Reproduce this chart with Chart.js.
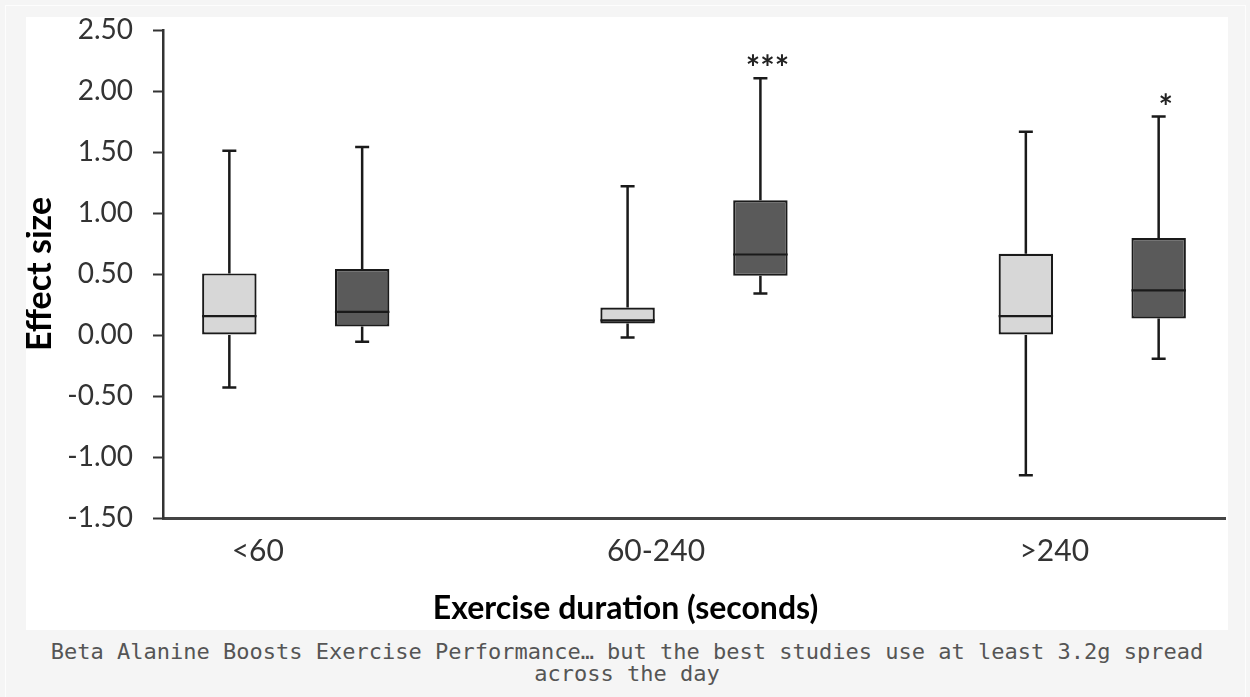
<!DOCTYPE html>
<html><head><meta charset="utf-8">
<script src="https://cdn.jsdelivr.net/npm/chart.js@4.4.1/dist/chart.umd.min.js"></script>
<style>
html,body{margin:0;padding:0;background:#f5f5f5;width:1250px;height:697px;overflow:hidden;}
#frame{position:absolute;left:5px;top:5px;width:1241px;height:700px;border:1px solid #fdfdfd;border-bottom:none;box-sizing:border-box;}
#wrap{position:absolute;left:26px;top:17px;width:1202px;height:613px;background:#fff;}
#cap{position:absolute;left:26px;top:641px;width:1202px;text-align:center;font-family:"DejaVu Sans Mono",monospace;font-size:22px;line-height:22px;color:#555;}
</style></head><body>
<div id="frame"></div>
<div id="wrap"><canvas id="c" width="1202" height="613"></canvas></div>
<div id="cap">Beta Alanine Boosts Exercise Performance… but the best studies use at least 3.2g spread<br>across the day</div>
<script>
// ---- data ----
const categories = ['<60', '60-240', '>240'];
const categoryIndex = [0, 1, 2];
const yMin = -1.5, yMax = 2.5, yStep = 0.5;

const lightMin    = [-0.43, -0.02, -1.15];
const lightQ1     = [0.00, 0.095, 0.00];
const lightMedian = [0.155, 0.12, 0.155];
const lightQ3     = [0.505, 0.225, 0.665];
const lightMax    = [1.51, 1.22, 1.665];
const lightSig    = ['', '', ''];

const darkMin     = [-0.055, 0.34, -0.195];
const darkQ1      = [0.07, 0.485, 0.135];
const darkMedian  = [0.19, 0.66, 0.365];
const darkQ3      = [0.54, 1.105, 0.795];
const darkMax     = [1.54, 2.105, 1.79];
const darkSig     = ['', '***', '*'];

const FONT = 'Lato, "Open Sans", sans-serif';
const LINE = '#1a1a1a';

function boxData(q1, q3) {
  return categoryIndex.map((x, i) => ({ x: x, y: [q1[i], q3[i]] }));
}

const whiskerPlugin = {
  id: 'whiskers',
  beforeDatasetsDraw(chart) {
    const ctx = chart.ctx, ys = chart.scales.y;
    chart.data.datasets.forEach((ds, di) => {
      const meta = chart.getDatasetMeta(di);
      meta.data.forEach((bar, i) => {
        const x = bar.x;
        const pMax = ys.getPixelForValue(ds.stats.max[i]);
        const pMin = ys.getPixelForValue(ds.stats.min[i]);
        const pQ3 = ys.getPixelForValue(ds.data[i].y[1]);
        const pQ1 = ys.getPixelForValue(ds.data[i].y[0]);
        ctx.save();
        ctx.strokeStyle = LINE;
        ctx.lineWidth = 2.5;
        ctx.beginPath();
        ctx.moveTo(x, pQ3); ctx.lineTo(x, pMax);
        ctx.moveTo(x, pQ1); ctx.lineTo(x, pMin);
        ctx.moveTo(x - 7, pMax); ctx.lineTo(x + 7, pMax);
        ctx.moveTo(x - 7, pMin); ctx.lineTo(x + 7, pMin);
        ctx.stroke();
        ctx.restore();
      });
    });
  },
  afterDatasetsDraw(chart) {
    const ctx = chart.ctx, ys = chart.scales.y;
    chart.data.datasets.forEach((ds, di) => {
      const meta = chart.getDatasetMeta(di);
      meta.data.forEach((bar, i) => {
        const x = bar.x, w = bar.width;
        const pMed = ys.getPixelForValue(ds.stats.median[i]);
        ctx.save();
        ctx.strokeStyle = LINE;
        ctx.lineWidth = 2.2;
        ctx.beginPath();
        ctx.moveTo(x - w / 2, pMed); ctx.lineTo(x + w / 2, pMed);
        ctx.stroke();
        const sig = ds.stats.sig[i];
        if (sig) {
          const pMax = ys.getPixelForValue(ds.stats.max[i]);
          ctx.fillStyle = '#222';
          ctx.font = 'bold 34px ' + FONT;
          ctx.textAlign = 'center';
          ctx.textBaseline = 'alphabetic';
          ctx.fillText(sig, x + 7, pMax + 2);
        }
        ctx.restore();
      });
    });
  }
};

new Chart(document.getElementById('c'), {
  type: 'bar',
  data: {
    datasets: [
      {
        label: 'Light',
        data: boxData(lightQ1, lightQ3),
        stats: { min: lightMin, median: lightMedian, max: lightMax, sig: lightSig },
        backgroundColor: '#d7d7d7',
        borderColor: LINE,
        borderWidth: 2.2,
        borderSkipped: false,
        categoryPercentage: 0.667,
        barPercentage: 0.41
      },
      {
        label: 'Dark',
        data: boxData(darkQ1, darkQ3),
        stats: { min: darkMin, median: darkMedian, max: darkMax, sig: darkSig },
        backgroundColor: '#5a5a5a',
        borderColor: LINE,
        borderWidth: 2.2,
        borderSkipped: false,
        categoryPercentage: 0.667,
        barPercentage: 0.41
      }
    ]
  },
  options: {
    responsive: false,
    animation: false,
    devicePixelRatio: 1,
    layout: { padding: { left: 0, right: 3, top: 0, bottom: 0 } },
    plugins: {
      legend: { display: false },
      tooltip: { enabled: false },
      title: {
        display: true,
        text: 'Exercise duration (seconds)',
        position: 'bottom',
        color: '#000',
        font: { family: FONT, size: 32, weight: 'bold', lineHeight: 1.2 },
        padding: { top: 0, bottom: 2 }
      }
    },
    scales: {
      x: {
        type: 'linear',
        offset: false,
        min: categoryIndex[0] - 1 / 3,
        max: categoryIndex[categoryIndex.length - 1] + 1 / 3,
        grid: { display: false, offset: false },
        border: { display: true, color: '#444', width: 3 },
        afterBuildTicks(scale) { scale.ticks = categoryIndex.map(v => ({ value: v })); },
        afterFit(scale) { scale.height = 71.6; scale.paddingLeft = 0; scale.paddingRight = 0; },
        ticks: {
          callback: (v) => categories[v] !== undefined ? categories[v] : '',
          font: { family: FONT, size: 30 },
          color: '#333',
          padding: 7,
          labelOffset: -38,
          maxRotation: 0,
          autoSkip: false
        }
      },
      y: {
        min: yMin,
        max: yMax,
        afterFit(scale) { scale.width = 137; scale.paddingTop = 13; scale.paddingBottom = 0; },
        grid: { display: true, drawOnChartArea: false, drawTicks: true, tickLength: 10, tickColor: '#333', tickWidth: 2 },
        border: { display: true, color: '#333', width: 2.5 },
        ticks: {
          stepSize: yStep,
          callback: (v) => v.toFixed(2),
          font: { family: FONT, size: 28, lineHeight: 0.93 },
          color: '#333',
          padding: 20
        },
        title: {
          display: true,
          text: 'Effect size',
          color: '#000',
          font: { family: FONT, size: 34, weight: 'bold', lineHeight: 0.82 },
          padding: { top: 0, bottom: 0 }
        }
      }
    }
  },
  plugins: [whiskerPlugin]
});
</script>
</body></html>
